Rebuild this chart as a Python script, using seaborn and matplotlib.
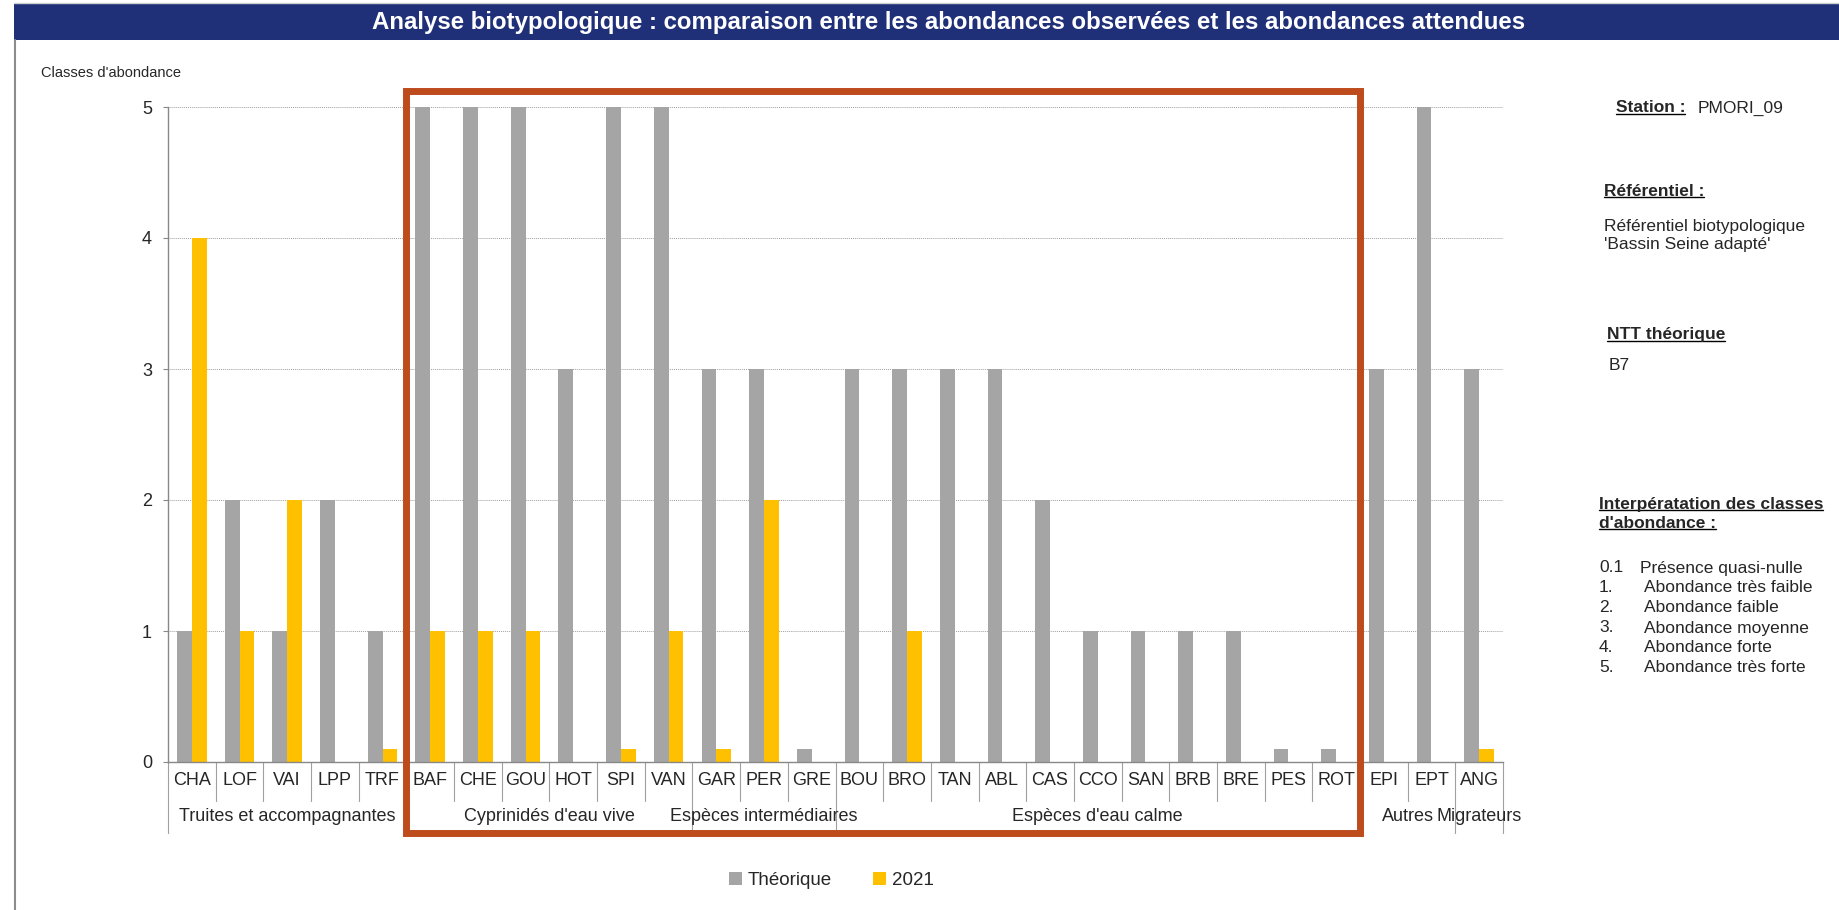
import numpy as np
import pandas as pd
import matplotlib
matplotlib.use("Agg")
import matplotlib.pyplot as plt
import matplotlib.transforms as mtransforms
from matplotlib.patches import Rectangle
import seaborn as sns

# species codes, grouped as in the chart
species = ['CHA', 'LOF', 'VAI', 'LPP', 'TRF',
           'BAF', 'CHE', 'GOU', 'HOT', 'SPI', 'VAN',
           'GAR', 'PER', 'GRE',
           'BOU', 'BRO', 'TAN', 'ABL', 'CAS', 'CCO', 'SAN', 'BRB', 'BRE', 'PES', 'ROT',
           'EPI', 'EPT',
           'ANG']

theorique = [1, 2, 1, 2, 1,
             5, 5, 5, 3, 5, 5,
             3, 3, 0.1,
             3, 3, 3, 3, 2, 1, 1, 1, 1, 0.1, 0.1,
             3, 5,
             3]

obs_2021 = [4, 1, 2, 0, 0.1,
            1, 1, 1, 0, 0.1, 1,
            0.1, 2, 0,
            0, 1, 0, 0, 0, 0, 0, 0, 0, 0, 0,
            0, 0,
            0.1]

groups = ["Truites et accompagnantes", "Cyprinidés d'eau vive", "Espèces intermédiaires",
          "Espèces d'eau calme", "Autres", "Migrateurs"]
group_sizes = [5, 6, 3, 11, 2, 1]

legend_rows = [("0.1", "Présence quasi-nulle"),
               ("1.", "Abondance très faible"),
               ("2.", "Abondance faible"),
               ("3.", "Abondance moyenne"),
               ("4.", "Abondance forte"),
               ("5.", "Abondance très forte")]

df = pd.DataFrame({
    'espece': species * 2,
    'classe': theorique + obs_2021,
    'serie': ['Théorique'] * len(species) + ['2021'] * len(species),
})

sns.set_style("white")
plt.rcParams['font.family'] = ['Liberation Sans', 'DejaVu Sans']

W, H = 1839, 910
fig = plt.figure(figsize=(W / 100, H / 100), dpi=100)
ax = fig.add_axes([168 / W, 1 - 762 / H, (1503 - 168) / W, (762 - 107) / H])

sns.barplot(data=df, x='espece', y='classe', hue='serie',
            palette={'Théorique': '#A5A5A5', '2021': '#FFC000'},
            width=0.62, saturation=1, errorbar=None, linewidth=0, ax=ax)

ax.set_xlim(-0.5, len(species) - 0.5)
ax.set_ylim(0, 5)
ax.set_yticks(range(6))
ax.set_axisbelow(True)
ax.yaxis.grid(True, color='#A0A0A0', linestyle=(0, (1, 1)), linewidth=0.7)
ax.xaxis.grid(False)
for s in ['top', 'right']:
    ax.spines[s].set_visible(False)
for s in ['left', 'bottom']:
    ax.spines[s].set_color('#888888')
    ax.spines[s].set_linewidth(1)
ax.tick_params(axis='y', left=True, length=3.6, color='#888888', labelsize=13, pad=8)
ax.tick_params(axis='x', bottom=False, labelbottom=False)
ax.set_xlabel('')
ax.set_ylabel('')

# legend at the bottom of the figure
handles, labels = ax.get_legend_handles_labels()
ax.get_legend().remove()
fig.legend(handles, labels, loc='center', bbox_to_anchor=(0.452, 0.032), ncol=2,
           frameon=False, fontsize=13.5, handlelength=0.7, handleheight=0.7,
           handletextpad=0.3, columnspacing=2.2)

# two-level category axis
trans = mtransforms.blended_transform_factory(ax.transData, ax.transAxes)
for i, sp in enumerate(species):
    ax.text(i, -0.029, sp, transform=trans, ha='center', va='center', fontsize=13)
bounds = np.concatenate([[0], np.cumsum(group_sizes)])
for i in range(len(species) + 1):
    bottom = -0.108 if i in bounds else -0.06
    ax.plot([i - 0.5, i - 0.5], [0, bottom], transform=trans, color='#A0A0A0',
            lw=0.8, clip_on=False)
for g, a, b in zip(groups, bounds[:-1], bounds[1:]):
    ax.text((a + b - 1) / 2, -0.083, g, transform=trans, ha='center', va='center', fontsize=13)

# highlight box around the cyprinid / intermediate / calm water groups
x0 = species.index('BAF') - 0.5
x1 = species.index('ROT') + 0.5
ax.add_patch(Rectangle((x0, -0.108), x1 - x0, 1.108 + 0.0244, transform=trans,
                       fill=False, edgecolor='#BE4B1C', lw=5, clip_on=False, zorder=5))

# axis title
fig.text(41 / W, 1 - 73 / H, "Classes d'abondance", fontsize=10.5, va='center', ha='left')

# title bar
fig.patches.append(Rectangle((14 / W, 1 - 40 / H), 1 - 14 / W, 36 / H, transform=fig.transFigure,
                             facecolor='#1F3078', edgecolor='none', zorder=0))
fig.text(949 / W, 1 - 22 / H,
         "Analyse biotypologique : comparaison entre les abondances observées et les abondances attendues",
         color='white', fontsize=17.3, fontweight='bold', ha='center', va='center')
fig.add_artist(plt.Line2D([15 / W, 15 / W], [0, 1 - 40 / H], transform=fig.transFigure,
                          color='#8C8C8C', lw=1.5))
fig.add_artist(plt.Line2D([14 / W, 1], [1 - 3 / H, 1 - 3 / H], transform=fig.transFigure,
                          color='#D0D0D0', lw=1))

# side panel
underlined = []
def side(x, y, s, bold=False, under=False, size=12.5):
    t = fig.text(x / W, 1 - y / H, s, fontsize=size, fontweight='bold' if bold else 'normal',
                 ha='left', va='center')
    if under:
        underlined.append(t)
    return t

side(1616, 108, "Station :", bold=True, under=True)
side(1698, 108, "PMORI_09")
side(1604, 191, "Référentiel :", bold=True, under=True)
side(1604, 226, "Référentiel biotypologique")
side(1604, 245, "'Bassin Seine adapté'")
side(1607, 335, "NTT théorique", bold=True, under=True)
side(1609, 365, "B7")
side(1599, 504, "Interpératation des classes", bold=True, under=True)
side(1599, 523, "d'abondance :", bold=True, under=True)
ys = [568, 588, 608, 628, 648, 668]
for (num, txt), y in zip(legend_rows, ys):
    side(1599, y, num)
    side(1640 if num == "0.1" else 1644, y, txt)

fig.canvas.draw()
renderer = fig.canvas.get_renderer()
for t in underlined:
    bb = t.get_window_extent(renderer).transformed(fig.transFigure.inverted())
    yl = bb.y0 + 0.1 * bb.height
    fig.add_artist(plt.Line2D([bb.x0, bb.x1], [yl, yl], transform=fig.transFigure,
                              color='black', lw=1))

fig.savefig('out.png', dpi=100, facecolor='white')
